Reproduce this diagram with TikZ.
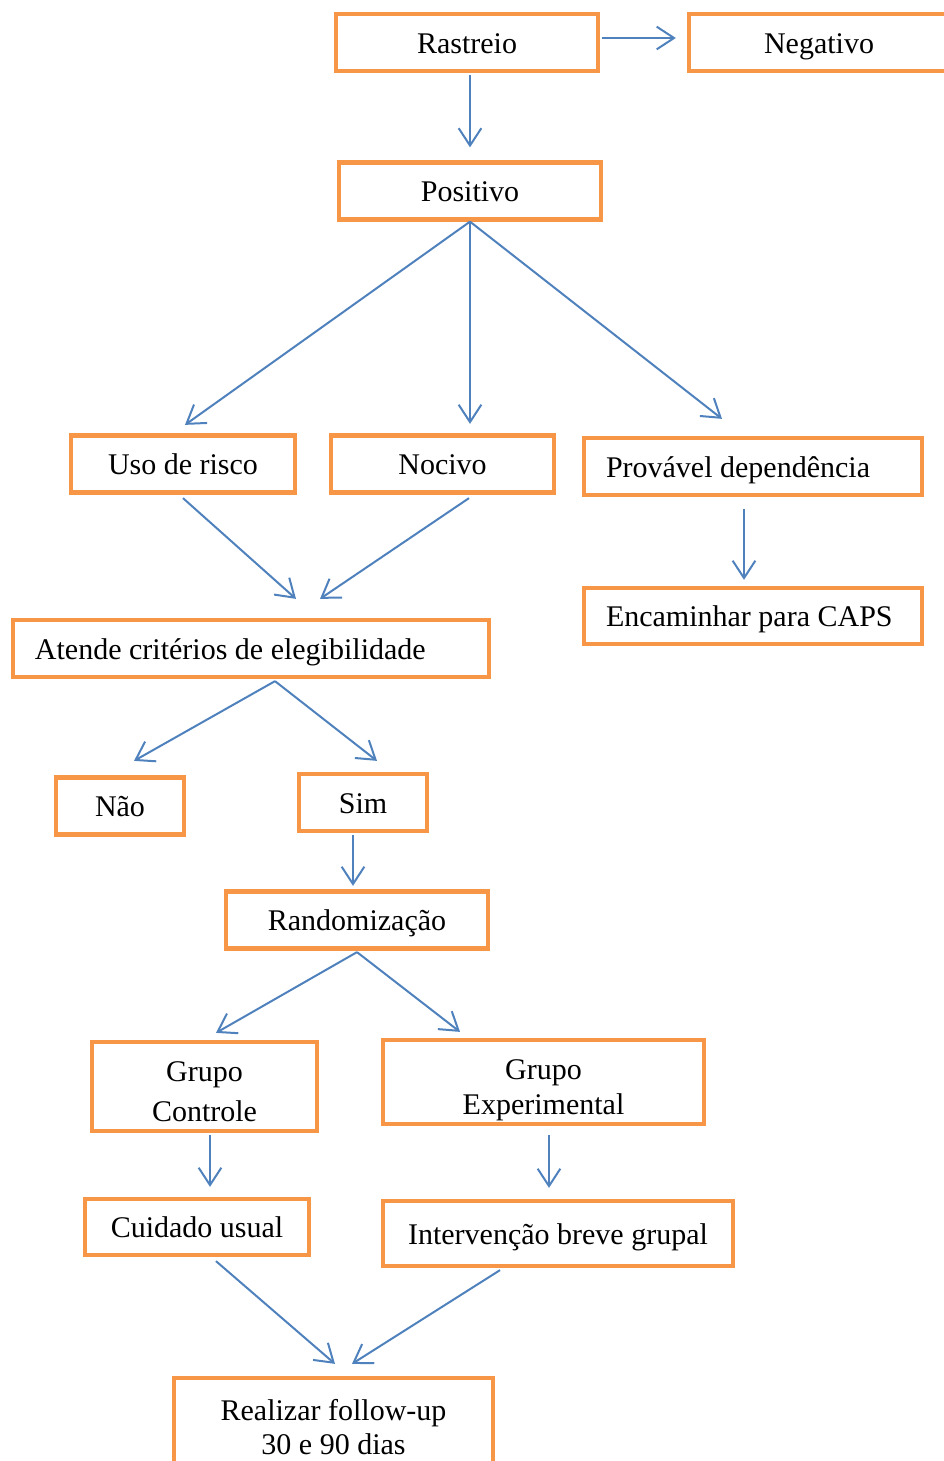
\documentclass[tikz,border=0pt]{standalone}
\usepackage{fontspec}
\setmainfont{Liberation Serif}
\usetikzlibrary{arrows.meta,calc}
\definecolor{boxorange}{HTML}{F79646}
\definecolor{arrblue}{HTML}{4F81BD}
\begin{document}
\begin{tikzpicture}[x=0.75pt,y=-0.75pt,
  box/.style={draw=boxorange, line width=3.2pt, inner sep=0pt, minimum height=42.75pt,
    font=\fontsize{22.5pt}{27pt}\selectfont, align=center, text height=17pt, text depth=1.25pt},
  lbox/.style={box, inner xsep=16.5pt, align=flush left},
  mbox/.style={draw=boxorange, line width=3.2pt, inner sep=0pt},
  mtext/.style={font=\fontsize{22.5pt}{#1}\selectfont, align=center, inner sep=0pt},
  arr/.style={draw=arrblue, line width=1.5pt, -{Straight Barb[length=13pt,width=17pt,line width=1.5pt]}}
]
\useasboundingbox (0,0) rectangle (944,1461);

\node[box, minimum width=196.5pt] (rastreio) at (467,42.5) {Rastreio};
\node[box, minimum width=195pt] (negativo) at (819,42.5) {Negativo};
\node[box, minimum width=196.5pt] (positivo) at (470,191) {Positivo};
\node[box, minimum width=168pt] (uso) at (183,464) {Uso de risco};
\node[box, minimum width=167.25pt] (nocivo) at (442.5,464) {Nocivo};
\node[lbox, text width=220.5pt] (provavel) at (753,466.5) {Provável dependência};
\node[lbox, text width=220.5pt, minimum height=42pt] (encaminhar) at (753,616) {Encaminhar para CAPS};
\node[lbox, text width=324pt] (atende) at (251,648.5) {Atende critérios de elegibilidade};
\node[box, minimum width=96pt] (nao) at (120,806) {Não};
\node[box, minimum width=96pt] (sim) at (363,802.5) {Sim};
\node[box, minimum width=196.5pt] (rand) at (357,920) {Randomização};
\node[mbox, minimum width=168.75pt, minimum height=66.75pt] (controle) at (204.5,1086.5) {};
\node[mtext=30pt] (controletxt) at (204.5,1092) {Grupo\\Controle};
\begin{scope}
\clip (383,1040) rectangle (704,1122);
\node[mtext=26.25pt] (exptxt) at (543.5,1090) {Grupo\\Experimental};
\end{scope}
\node[mbox, minimum width=240.75pt, minimum height=63pt] (exp) at (543.5,1082) {};
\node[box, minimum width=168pt, minimum height=42pt] (cuidado) at (197,1227) {Cuidado usual};
\node[box, minimum width=262.5pt, minimum height=48.75pt] (interv) at (558,1233.5) {Intervenção breve grupal};
\node[mbox, minimum width=239.25pt, minimum height=70.5pt] (realizar) at (333.5,1425) {};
\node[mtext=25.5pt] (realizartxt) at (333.5,1427) {Realizar follow-up\\30 e 90 dias};

\draw[arr] ($(rastreio.east)+(2,-4.5)$) -- ($(negativo.west)+(-11,-4.5)$);
\draw[arr] ($(rastreio.south)+(3,2)$) -- ($(positivo.north)+(0,-13)$);
\draw[arr] (positivo.south) -- ($(uso.north)+(2,-8.5)$);
\draw[arr] (positivo.south) -- ($(nocivo.north)+(27.5,-9.5)$);
\draw[arr] (positivo.south) -- ($(provavel.north)+(-31,-17)$);
\draw[arr] ($(provavel.south)+(-9,12)$) -- ($(encaminhar.north)+(-9,-6)$);
\draw[arr] ($(uso.south)+(0,3.5)$) -- ($(atende.north)+(45,-19)$);
\draw[arr] ($(nocivo.south)+(26.5,3.5)$) -- ($(atende.north)+(69,-19)$);
\draw[arr] ($(atende.south)+(24,2)$) -- ($(nao.north)+(14,-14.5)$);
\draw[arr] ($(atende.south)+(24,2)$) -- ($(sim.north)+(14,-11)$);
\draw[arr] ($(sim.south)+(-10,2)$) -- ($(rand.north)+(-4,-3.5)$);
\draw[arr] ($(rand.south)+(0,1.5)$) -- ($(controle.north)+(11.5,-7)$);
\draw[arr] ($(rand.south)+(0,1.5)$) -- ($(exp.north)+(-83.5,-6)$);
\draw[arr] ($(controle.south)+(5.5,2)$) -- ($(cuidado.north)+(13,-10)$);
\draw[arr] ($(exp.south)+(5.5,9)$) -- ($(interv.north)+(-9,-11)$);
\draw[arr] ($(cuidado.south)+(19,4)$) -- ($(realizar.north)+(1.5,-12)$);
\draw[arr] ($(interv.south)+(-58,2)$) -- ($(realizar.north)+(18.5,-12)$);
\end{tikzpicture}
\end{document}
